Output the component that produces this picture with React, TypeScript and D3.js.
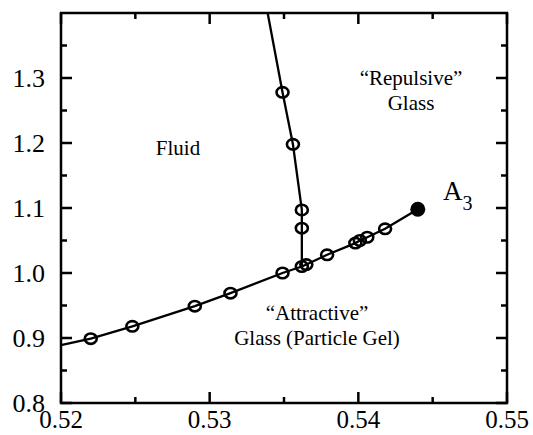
import React, { useRef, useEffect } from 'react';
import * as d3 from 'd3';

// lower ("attractive") glass line, markers
const lowerX = [0.522, 0.5248, 0.529, 0.5314, 0.5349, 0.5362, 0.5365, 0.5379, 0.5398, 0.5401, 0.5406, 0.5418];
const lowerY = [0.899, 0.918, 0.949, 0.969, 1.0, 1.010, 1.013, 1.028, 1.046, 1.050, 1.055, 1.068];
// line reaches the left frame before the first marker
const lowerStart = [0.52, 0.889];
// A3 endpoint
const a3 = [0.544, 1.098];

// upper ("repulsive") glass branch
const upperX = [0.5349, 0.5356, 0.5362, 0.5362];
const upperY = [1.278, 1.198, 1.097, 1.069];
const upperStart = [0.5339, 1.4];
const upperEnd = [0.5362, 1.011];

const xTicks = [0.52, 0.53, 0.54, 0.55];
const yTicks = [0.8, 0.9, 1.0, 1.1, 1.2, 1.3];

const W = 533;
const H = 435;
const FONT = "'Liberation Serif', 'Times New Roman', Times, serif";

const App = () => {
    const ref = useRef<SVGSVGElement>(null);

    useEffect(() => {
        const svg = d3.select(ref.current);
        svg.selectAll('*').remove();

        const left = 61, right = 507, top = 13, bottom = 403;
        const x = d3.scaleLinear().domain([0.52, 0.55]).range([left, right]);
        const y = d3.scaleLinear().domain([0.8, 1.4]).range([bottom, top]);

        // frame
        svg.append('rect')
            .attr('x', left).attr('y', top)
            .attr('width', right - left).attr('height', bottom - top)
            .attr('fill', 'none').attr('stroke', '#000').attr('stroke-width', 2.5);

        // ticks on all four sides, pointing inward
        const minorX = d3.range(0.525, 0.55, 0.01);
        const minorY = d3.range(0.85, 1.4, 0.1);
        const tick = (x1, y1, x2, y2) => svg.append('line')
            .attr('x1', x1).attr('y1', y1).attr('x2', x2).attr('y2', y2)
            .attr('stroke', '#000').attr('stroke-width', 2.5);
        xTicks.forEach(v => { tick(x(v), bottom, x(v), bottom - 11); tick(x(v), top, x(v), top + 11); });
        minorX.forEach(v => { tick(x(v), bottom, x(v), bottom - 6); tick(x(v), top, x(v), top + 6); });
        yTicks.forEach(v => { tick(left, y(v), left + 11, y(v)); tick(right, y(v), right - 11, y(v)); });
        minorY.forEach(v => { tick(left, y(v), left + 6, y(v)); tick(right, y(v), right - 6, y(v)); });

        // tick labels
        svg.append('g').selectAll('text').data(xTicks).enter().append('text')
            .attr('x', d => x(d)).attr('y', 428)
            .attr('text-anchor', 'middle')
            .attr('font-size', 25)
            .text(d => d3.format('.2f')(d));
        svg.append('g').selectAll('text').data(yTicks).enter().append('text')
            .attr('x', 45).attr('y', d => y(d))
            .attr('dy', '0.35em')
            .attr('text-anchor', 'end')
            .attr('font-size', 26)
            .text(d => d3.format('.1f')(d));

        const line = d3.line<number[]>().x(d => x(d[0])).y(d => y(d[1]));

        // lower curve
        const lowerPts = [lowerStart, ...lowerX.map((v, i) => [v, lowerY[i]]), a3];
        svg.append('path').datum(lowerPts)
            .attr('fill', 'none').attr('stroke', '#000').attr('stroke-width', 2.3)
            .attr('d', line);

        // upper branch
        const upperPts = [upperStart, ...upperX.map((v, i) => [v, upperY[i]]), upperEnd];
        svg.append('path').datum(upperPts)
            .attr('fill', 'none').attr('stroke', '#000').attr('stroke-width', 2.3)
            .attr('d', line);

        // open markers
        const markers = [...lowerX.map((v, i) => [v, lowerY[i]]), ...upperX.map((v, i) => [v, upperY[i]])];
        svg.append('g').selectAll('ellipse').data(markers).enter().append('ellipse')
            .attr('cx', d => x(d[0])).attr('cy', d => y(d[1]))
            .attr('rx', 6).attr('ry', 5.2)
            .attr('fill', 'none').attr('stroke', '#000').attr('stroke-width', 2.6);

        svg.append('circle')
            .attr('cx', x(a3[0])).attr('cy', y(a3[1])).attr('r', 7.5)
            .attr('fill', '#000');

        // region labels
        const label = (tx, ty, lines, size = 21) => {
            const t = svg.append('text')
                .attr('text-anchor', 'middle')
                .attr('font-size', size);
            lines.forEach((s, i) => t.append('tspan').attr('x', tx).attr('y', ty + i * 25).text(s));
        };
        label(178, 155, ['Fluid']);
        label(411, 85, ['\u201CRepulsive\u201D', 'Glass']);
        label(317, 320, ['\u201CAttractive\u201D', 'Glass (Particle Gel)']);

        const a = svg.append('text').attr('x', 443).attr('y', 200)
            .attr('font-size', 27);
        a.append('tspan').text('A');
        a.append('tspan').attr('dy', 10).attr('font-size', 20).text('3');
    }, []);

    return (
        <svg ref={ref} width={W} height={H} fontFamily={FONT}
            style={{ position: 'absolute', left: 0, top: 0, background: '#fff' }}></svg>
    );
};

export default App;
